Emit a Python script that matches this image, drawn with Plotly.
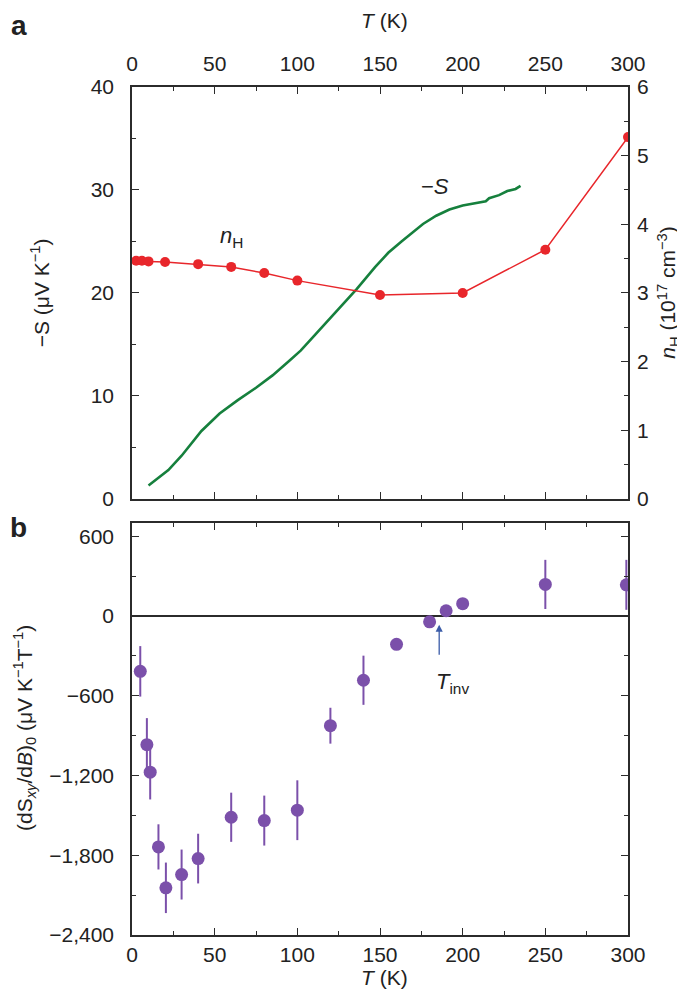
import plotly.graph_objects as go

# ---------------- data ----------------
# Panel a: -S (green curve, left axis)
s_T = [10, 15, 22, 30, 42, 53, 64, 75, 85, 95, 102, 110, 120, 128, 136, 147, 155,
       163, 170, 176, 184, 192, 200, 207, 214, 216, 222, 227, 232, 235]
s_val = [1.3, 1.9, 2.8, 4.2, 6.6, 8.3, 9.6, 10.8, 12.0, 13.4, 14.4, 15.8, 17.6, 19.0,
         20.4, 22.5, 23.9, 25.0, 25.9, 26.7, 27.5, 28.1, 28.5, 28.7, 28.9, 29.2, 29.5,
         29.9, 30.1, 30.4]

# Panel a: n_H (red, right axis, 1e17 cm^-3)
nh_T = [2.5, 6, 10, 20, 40, 60, 80, 100, 150, 200, 250, 300]
nh_val = [3.47, 3.47, 3.46, 3.45, 3.42, 3.38, 3.29, 3.18, 2.97, 3.00, 3.63, 5.27]

# Panel b: (dSxy/dB)_0 with error bars
b_T = [5, 9, 11, 16, 20.5, 30, 40, 60, 80, 100, 120, 140, 160, 180, 190, 200, 250, 299]
b_val = [-416, -968, -1175, -1737, -2045, -1945, -1825, -1514, -1539, -1461,
         -825, -483, -213, -43, 40, 93, 238, 235]
b_err = [190, 200, 205, 170, 190, 188, 187, 185, 188, 225,
         135, 185, 0, 0, 0, 0, 185, 188]

a_x_ticks = [0, 50, 100, 150, 200, 250, 300]
b_y_ticks = [-2400, -1800, -1200, -600, 0, 600]
b_y_ticktext = ["\u22122,400", "\u22121,800", "\u22121,200", "\u2212600", "0", "600"]

# Arrow marking T_inv
tinv_T = 185.8
tinv_from = -303
tinv_to = -65

RED = "#e8262b"
GREEN = "#16803d"
PURPLE = "#7b50aa"
BLUE = "#3b5ca8"
AX = "#2b2b2b"
FONT = "Liberation Sans"
TXT = "#222"

fig = go.Figure()

fig.add_trace(go.Scatter(x=s_T, y=s_val, mode="lines", line=dict(color=GREEN, width=2.6),
                         xaxis="x", yaxis="y", showlegend=False))
fig.add_trace(go.Scatter(x=nh_T, y=nh_val, mode="lines+markers",
                         line=dict(color=RED, width=1.5),
                         marker=dict(color=RED, size=10),
                         xaxis="x", yaxis="y2", showlegend=False))
fig.add_trace(go.Scatter(x=b_T, y=b_val, mode="markers",
                         marker=dict(color=PURPLE, size=13),
                         error_y=dict(type="data", array=b_err, visible=True,
                                      color=PURPLE, thickness=2, width=0),
                         xaxis="x2", yaxis="y3", showlegend=False, cliponaxis=True))

tickfont = dict(family=FONT, size=21, color=TXT)
common = dict(showline=True, linecolor=AX, linewidth=1.5, ticks="inside",
              tickcolor=AX, ticklen=7, tickwidth=1.3, showgrid=False,
              tickfont=tickfont)
minor_style = dict(ticks="inside", ticklen=4, tickcolor=AX, tickwidth=1.3, showgrid=False)

fig.update_layout(
    width=685, height=992,
    margin=dict(l=124, r=65, t=79, b=65),
    paper_bgcolor="white", plot_bgcolor="white",
    font=dict(family=FONT, size=21, color=TXT),
    xaxis=dict(domain=[0, 1], anchor="y", side="top", range=[0, 300],
               tickvals=a_x_ticks, mirror="ticks", zeroline=False, ticklabelstandoff=6,
               minor=dict(dtick=25, tick0=0, **minor_style), **common),
    yaxis=dict(domain=[0.5142, 1], anchor="x", range=[0, 40], dtick=10, zeroline=False,
               ticklabelstandoff=12,
               minor=dict(dtick=5, tick0=0, **minor_style), **common),
    yaxis2=dict(overlaying="y", anchor="x", side="right", range=[0, 6], dtick=1,
                zeroline=False, ticklabelstandoff=3,
                minor=dict(dtick=0.5, tick0=0, **minor_style), **common),
    xaxis2=dict(domain=[0, 1], anchor="y3", range=[0, 300], tickvals=a_x_ticks,
                mirror="ticks", zeroline=False,
                minor=dict(dtick=25, tick0=0, **minor_style), **common),
    yaxis3=dict(domain=[0, 0.4858], anchor="x2", range=[-2400, 700],
                tickvals=b_y_ticks, ticktext=b_y_ticktext, mirror="ticks",
                ticklabelstandoff=12,
                minor=dict(dtick=300, tick0=0, **minor_style),
                zeroline=True, zerolinecolor=AX, zerolinewidth=1.5, **common),
)

# T_inv arrow
fig.add_annotation(x=tinv_T, y=tinv_to, ax=tinv_T, ay=tinv_from, xref="x2", yref="y3",
                   axref="x2", ayref="y3", showarrow=True, arrowhead=2, arrowsize=1.1,
                   arrowwidth=1.3, arrowcolor=BLUE, text="")
fig.add_annotation(x=194, y=-505, xref="x2", yref="y3", showarrow=False,
                   xanchor="center", yanchor="middle",
                   text="<i>T</i><sub>inv</sub>", font=dict(family=FONT, size=22, color=TXT))

# In-plot labels panel a
fig.add_annotation(x=183, y=30.3, xref="x", yref="y", showarrow=False,
                   xanchor="center", yanchor="middle",
                   text="\u2212<i>S</i>", font=dict(family=FONT, size=22, color=TXT))
fig.add_annotation(x=60, y=25.4, xref="x", yref="y", showarrow=False,
                   xanchor="center", yanchor="middle",
                   text="<i>n</i><sub>H</sub>", font=dict(family=FONT, size=22, color=TXT))

# Axis titles
tfont = dict(family=FONT, size=21, color=TXT)
fig.add_annotation(x=0.51, y=1.079, xref="paper", yref="paper", xanchor="center",
                   yanchor="middle", showarrow=False, text="<i>T</i> (K)", font=tfont)
fig.add_annotation(x=0.51, y=-0.05, xref="paper", yref="paper", xanchor="center",
                   yanchor="middle", showarrow=False, text="<i>T</i> (K)", font=tfont)
fig.add_annotation(x=-0.185, y=0.757, xref="paper", yref="paper", textangle=-90,
                   xanchor="center", yanchor="middle",
                   showarrow=False, text="\u2212S (\u03bcV K<sup>\u22121</sup>)", font=tfont)
fig.add_annotation(x=1.08, y=0.757, xref="paper", yref="paper", textangle=-90,
                   xanchor="center", yanchor="middle",
                   showarrow=False, text="<i>n</i><sub>H</sub> (10<sup>17</sup> cm<sup>\u22123</sup>)",
                   font=tfont)
fig.add_annotation(x=-0.218, y=0.244, xref="paper", yref="paper", textangle=-90,
                   xanchor="center", yanchor="middle",
                   showarrow=False,
                   text="(dS<sub><i>xy</i></sub>/d<i>B</i>)<sub>0</sub> (\u03bcV K<sup>\u22121</sup>T<sup>\u22121</sup>)",
                   font=tfont)

# Panel letters
fig.add_annotation(x=-0.228, y=1.072, xref="paper", yref="paper", showarrow=False,
                   xanchor="center", yanchor="middle",
                   text="<b>a</b>", font=dict(family=FONT, size=28, color=TXT))
fig.add_annotation(x=-0.228, y=0.48, xref="paper", yref="paper", showarrow=False,
                   xanchor="center", yanchor="middle",
                   text="<b>b</b>", font=dict(family=FONT, size=28, color=TXT))

fig.write_html("out.html")
